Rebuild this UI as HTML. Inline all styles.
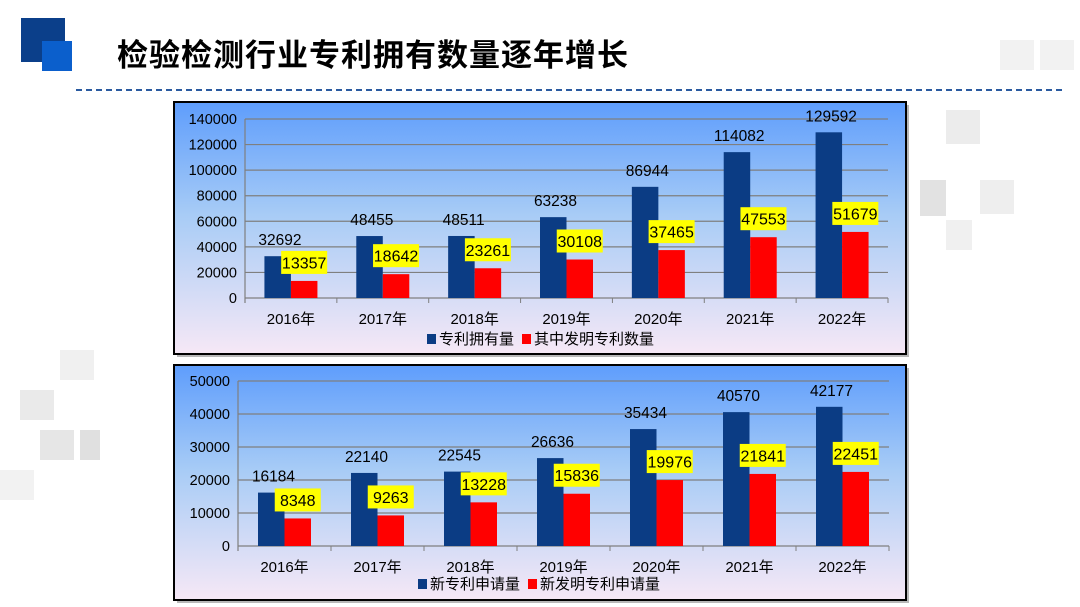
<!DOCTYPE html>
<html><head><meta charset="utf-8">
<style>
body{margin:0;width:1080px;height:607px;overflow:hidden;background:#fff;font-family:"Liberation Sans","Noto Sans CJK SC",sans-serif;position:relative}
.sq{position:absolute;background:#eeeeee}
</style></head>
<body>
<div class="sq" style="left:1000px;top:40px;width:34px;height:30px;background:#f2f2f2"></div>
<div class="sq" style="left:1040px;top:40px;width:34px;height:30px;background:#f2f2f2"></div>
<div class="sq" style="left:946px;top:110px;width:34px;height:34px;background:#ececec"></div>
<div class="sq" style="left:920px;top:180px;width:26px;height:36px;background:#e2e2e2"></div>
<div class="sq" style="left:980px;top:180px;width:34px;height:34px;background:#eeeeee"></div>
<div class="sq" style="left:946px;top:220px;width:26px;height:30px;background:#f0f0f0"></div>
<div class="sq" style="left:20px;top:390px;width:34px;height:30px;background:#eaeaea"></div>
<div class="sq" style="left:60px;top:350px;width:34px;height:30px;background:#f0f0f0"></div>
<div class="sq" style="left:40px;top:430px;width:34px;height:30px;background:#e6e6e6"></div>
<div class="sq" style="left:80px;top:430px;width:20px;height:30px;background:#e0e0e0"></div>
<div class="sq" style="left:0px;top:470px;width:34px;height:30px;background:#f2f2f2"></div>

<div style="position:absolute;left:21px;top:18px;width:44px;height:44px;background:#0b3f8a"></div>
<div style="position:absolute;left:42px;top:41px;width:30px;height:30px;background:#0b5fcc"></div>
<div style="position:absolute;left:117px;top:30px;font-size:31px;font-weight:bold;color:#000;letter-spacing:1px">检验检测行业专利拥有数量逐年增长</div>
<div style="position:absolute;left:76px;top:89px;width:986px;border-top:2px dashed #2a5aa0"></div>

<svg id="c1" style="position:absolute;left:0;top:0" width="1080" height="607">
<defs><linearGradient id="bg" x1="0" y1="0" x2="0" y2="1"><stop offset="0" stop-color="#5e9dfc"/><stop offset="0.45" stop-color="#a8ccf6"/><stop offset="1" stop-color="#f6e8f6"/></linearGradient></defs>
</svg>
<script>
const NS='http://www.w3.org/2000/svg';
const svg=document.getElementById('c1');
const cats=['2016年','2017年','2018年','2019年','2020年','2021年','2022年'];
const owned=[32692,48455,48511,63238,86944,114082,129592];
const invOwned=[13357,18642,23261,30108,37465,47553,51679];
const topTicks=[0,20000,40000,60000,80000,100000,120000,140000];
const newApp=[16184,22140,22545,26636,35434,40570,42177];
const newInv=[8348,9263,13228,15836,19976,21841,22451];
const botTicks=[0,10000,20000,30000,40000,50000];
function el(t,a,p){const e=document.createElementNS(NS,t);for(const k in a)e.setAttribute(k,a[k]);(p||svg).appendChild(e);return e;}
function chart(o){
  const g=el('g',{});
  
  
  el('rect',{x:o.fx+3,y:o.fy+3,width:o.fw,height:o.fh,fill:'#888',opacity:0.6},g);
  const fr=el('rect',{x:o.fx,y:o.fy,width:o.fw,height:o.fh,fill:'url(#bg)',stroke:'#000','stroke-width':2},g);
  
  
  const max=o.ticks[o.ticks.length-1];
  const y=v=>o.y0-(v/max)*(o.y0-o.y1);
  const bw=(o.x1-o.x0)/o.cats.length;
  const x=i=>o.x0+bw*i;
  o.ticks.forEach(t=>{
    el('line',{x1:o.x0,x2:o.x1,y1:y(t),y2:y(t),stroke:'#7f7f7f','stroke-width':1.2},g);
    const tl=el('text',{x:o.x0-8,y:y(t)+5,'text-anchor':'end','font-size':14.5,fill:'#000'},g);
    tl.textContent=t;
    
    
  });
  el('line',{x1:o.x0,x2:o.x0,y1:o.y1,y2:o.y0+5,stroke:'#7f7f7f','stroke-width':1.2},g);
  for(let i=0;i<=o.cats.length;i++) el('line',{x1:x(i),x2:x(i),y1:o.y0,y2:o.y0+5,stroke:'#7f7f7f'},g);
  o.cats.forEach((c,i)=>{
    const cx=x(i)+bw/2, w=26.5;
    const b=el('rect',{x:cx-w,y:y(o.a[i]),width:w,height:o.y0-y(o.a[i]),fill:'#0b3c84'},g);
    
    
    const r=el('rect',{x:cx,y:y(o.b[i]),width:w,height:o.y0-y(o.b[i]),fill:'#ff0000'},g);
    
    
    const la=el('text',{x:cx-11,y:y(o.a[i])-11,'text-anchor':'middle','font-size':15.5,fill:'#000'},g);
    la.textContent=o.a[i];
    
    
    const by=y(o.b[i])-30, bx=cx+w/2-23;
    const bb=el('rect',{x:bx,y:by,width:46,height:23,fill:'#ffff00'},g);
    
    
    const lb=el('text',{x:bx+23,y:by+17.5,'text-anchor':'middle','font-size':16,fill:'#000'},g);
    lb.textContent=o.b[i];
    
    
    const xl=el('text',{x:cx,y:o.y0+26,'text-anchor':'middle','font-size':15,fill:'#000'},g);
    xl.textContent=c;
    
    
  });
  const lx=o.lx, ly=o.ly;
  el('rect',{x:lx,y:ly-10,width:9,height:10,fill:'#0b3c84'},g);
  const t1=el('text',{x:lx+12,y:ly,'font-size':15,fill:'#000'},g);t1.textContent=o.l1;
  
  
  const off=o.l1.length*15+20;
  el('rect',{x:lx+off,y:ly-10,width:9,height:10,fill:'#ff0000'},g);
  const t2=el('text',{x:lx+off+12,y:ly,'font-size':15,fill:'#000'},g);t2.textContent=o.l2;
  
  
}
chart({name:'patent-owned-chart',fx:174,fy:102,fw:732,fh:252,x0:245,x1:888,y0:298,y1:119,ticks:topTicks,cats:cats,a:owned,b:invOwned,lx:427,ly:344,l1:'专利拥有量',l2:'其中发明专利数量'});
chart({name:'new-application-chart',fx:174,fy:365,fw:732,fh:235,x0:238,x1:889,y0:546,y1:381,ticks:botTicks,cats:cats,a:newApp,b:newInv,lx:418,ly:589,l1:'新专利申请量',l2:'新发明专利申请量'});
</script>
</body></html>
